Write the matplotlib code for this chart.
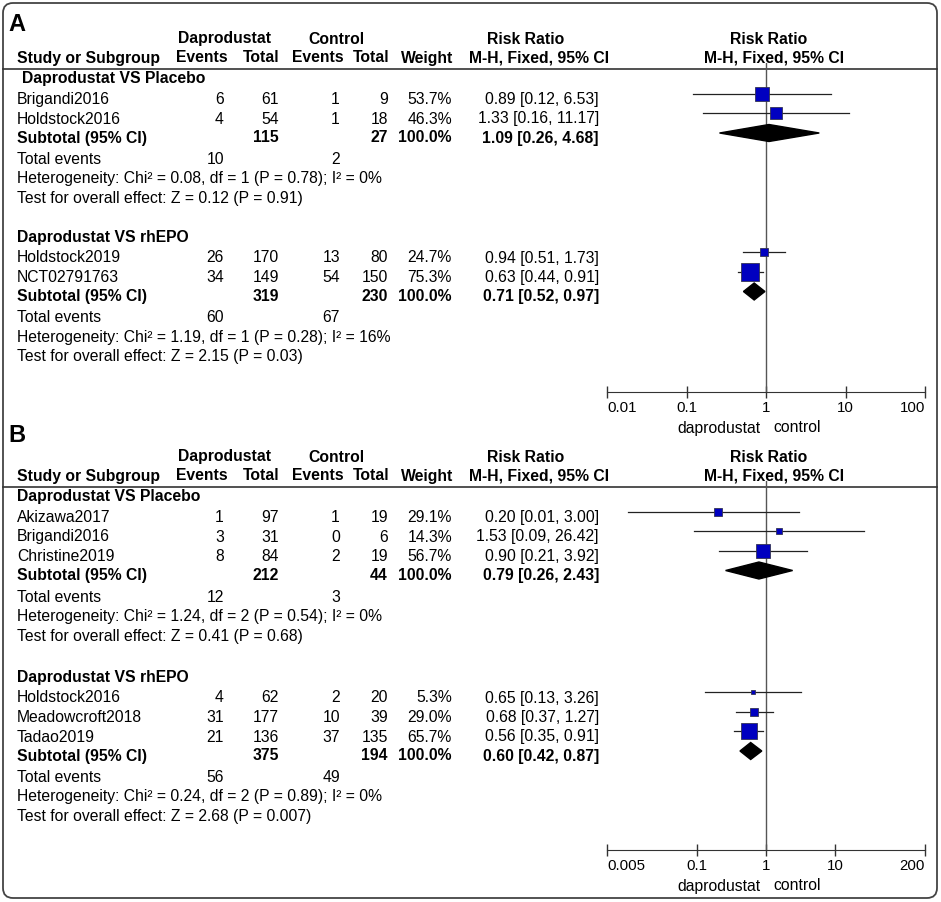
import matplotlib
matplotlib.use("Agg")
import matplotlib.pyplot as plt
from matplotlib.patches import FancyBboxPatch
from matplotlib.ticker import NullLocator
from matplotlib.transforms import offset_copy

plt.rcParams['font.family'] = ['Liberation Sans', 'DejaVu Sans']

# ---- data: panel A ----
a_p_study = ["Brigandi2016", "Holdstock2016"]
a_p_exp_ev = [6, 4]
a_p_exp_n = [61, 54]
a_p_ctl_ev = [1, 1]
a_p_ctl_n = [9, 18]
a_p_weight = [53.7, 46.3]
a_p_rr = [0.89, 1.33]
a_p_lo = [0.12, 0.16]
a_p_hi = [6.53, 11.17]
a_p_sub_n = [115, 27]
a_p_sub_rr = [1.09, 0.26, 4.68]
a_p_events = [10, 2]
a_p_het = "Heterogeneity: Chi² = 0.08, df = 1 (P = 0.78); I² = 0%"
a_p_test = "Test for overall effect: Z = 0.12 (P = 0.91)"

a_e_study = ["Holdstock2019", "NCT02791763"]
a_e_exp_ev = [26, 34]
a_e_exp_n = [170, 149]
a_e_ctl_ev = [13, 54]
a_e_ctl_n = [80, 150]
a_e_weight = [24.7, 75.3]
a_e_rr = [0.94, 0.63]
a_e_lo = [0.51, 0.44]
a_e_hi = [1.73, 0.91]
a_e_sub_n = [319, 230]
a_e_sub_rr = [0.71, 0.52, 0.97]
a_e_events = [60, 67]
a_e_het = "Heterogeneity: Chi² = 1.19, df = 1 (P = 0.28); I² = 16%"
a_e_test = "Test for overall effect: Z = 2.15 (P = 0.03)"

a_ticks = [0.01, 0.1, 1, 10, 100]
a_ticklabels = ["0.01", "0.1", "1", "10", "100"]

# ---- data: panel B ----
b_p_study = ["Akizawa2017", "Brigandi2016", "Christine2019"]
b_p_exp_ev = [1, 3, 8]
b_p_exp_n = [97, 31, 84]
b_p_ctl_ev = [1, 0, 2]
b_p_ctl_n = [19, 6, 19]
b_p_weight = [29.1, 14.3, 56.7]
b_p_rr = [0.20, 1.53, 0.90]
b_p_lo = [0.01, 0.09, 0.21]
b_p_hi = [3.00, 26.42, 3.92]
b_p_sub_n = [212, 44]
b_p_sub_rr = [0.79, 0.26, 2.43]
b_p_events = [12, 3]
b_p_het = "Heterogeneity: Chi² = 1.24, df = 2 (P = 0.54); I² = 0%"
b_p_test = "Test for overall effect: Z = 0.41 (P = 0.68)"

b_e_study = ["Holdstock2016", "Meadowcroft2018", "Tadao2019"]
b_e_exp_ev = [4, 31, 21]
b_e_exp_n = [62, 177, 136]
b_e_ctl_ev = [2, 10, 37]
b_e_ctl_n = [20, 39, 135]
b_e_weight = [5.3, 29.0, 65.7]
b_e_rr = [0.65, 0.68, 0.56]
b_e_lo = [0.13, 0.37, 0.35]
b_e_hi = [3.26, 1.27, 0.91]
b_e_sub_n = [375, 194]
b_e_sub_rr = [0.60, 0.42, 0.87]
b_e_events = [56, 49]
b_e_het = "Heterogeneity: Chi² = 0.24, df = 2 (P = 0.89); I² = 0%"
b_e_test = "Test for overall effect: Z = 2.68 (P = 0.007)"

b_ticks = [0.005, 0.1, 1, 10, 200]
b_ticklabels = ["0.005", "0.1", "1", "10", "200"]

group_names = ["Daprodustat VS Placebo", "Daprodustat VS rhEPO"]


def make_group(study, ev1, n1, ev2, n2, w, rr, lo, hi, sub_n, sub_rr, events, het, test):
    return dict(study=study, ev1=ev1, n1=n1, ev2=ev2, n2=n2, w=w, rr=rr, lo=lo, hi=hi,
                sub_n=sub_n, sub_rr=sub_rr, events=events, het=het, test=test)


panel_a = [make_group(a_p_study, a_p_exp_ev, a_p_exp_n, a_p_ctl_ev, a_p_ctl_n, a_p_weight,
                      a_p_rr, a_p_lo, a_p_hi, a_p_sub_n, a_p_sub_rr, a_p_events, a_p_het, a_p_test),
           make_group(a_e_study, a_e_exp_ev, a_e_exp_n, a_e_ctl_ev, a_e_ctl_n, a_e_weight,
                      a_e_rr, a_e_lo, a_e_hi, a_e_sub_n, a_e_sub_rr, a_e_events, a_e_het, a_e_test)]
panel_b = [make_group(b_p_study, b_p_exp_ev, b_p_exp_n, b_p_ctl_ev, b_p_ctl_n, b_p_weight,
                      b_p_rr, b_p_lo, b_p_hi, b_p_sub_n, b_p_sub_rr, b_p_events, b_p_het, b_p_test),
           make_group(b_e_study, b_e_exp_ev, b_e_exp_n, b_e_ctl_ev, b_e_ctl_n, b_e_weight,
                      b_e_rr, b_e_lo, b_e_hi, b_e_sub_n, b_e_sub_rr, b_e_events, b_e_het, b_e_test)]

# ---- layout (pixels) ----
W, H = 941, 902
FS = 11.3
X_STUDY, X_EV1, X_N1, X_EV2, X_N2, X_W, X_CI = 17, 224, 279, 340, 388, 452, 599
PLOT_L, PLOT_R = 607, 925
SQ_COLOR = '#0000c0'
LINE_COLOR = '#333333'

fig = plt.figure(figsize=(W / 100, H / 100), dpi=100)
bg = fig.add_axes([0, 0, 1, 1])
bg.set_xlim(0, W)
bg.set_ylim(H, 0)
bg.axis('off')

frame = FancyBboxPatch((3, 3), 934, 895, boxstyle='round,pad=0,rounding_size=10',
                       fill=False, ec='#444444', lw=1.3)
bg.add_patch(frame)


def txt(x, y, s, ha='right', bold=False, size=FS):
    bg.text(x, y, s, ha=ha, va='center', fontsize=size,
            fontweight='bold' if bold else 'normal')


def draw_panel(label, label_y, y0, gap, indent, groups, ax_bottom, xlim, ticks, ticklabels):
    txt(8, label_y, label, ha='left', bold=True, size=17)
    h1, h2, line_y = y0 + 15, y0 + 34, y0 + 45
    txt(225, h1, "Daprodustat", ha='center', bold=True)
    txt(336, h1, "Control", ha='center', bold=True)
    txt(526, h1, "Risk Ratio", ha='center', bold=True)
    txt(769, h1, "Risk Ratio", ha='center', bold=True)
    txt(X_STUDY, h2, "Study or Subgroup", ha='left', bold=True)
    txt(X_EV1 + 4, h2, "Events", bold=True)
    txt(X_N1 + 1, h2, "Total", bold=True)
    txt(X_EV2 + 4, h2, "Events", bold=True)
    txt(X_N2 + 2, h2, "Total", bold=True)
    txt(X_W + 1, h2, "Weight", bold=True)
    txt(539, h2, "M-H, Fixed, 95% CI", ha='center', bold=True)
    txt(774, h2, "M-H, Fixed, 95% CI", ha='center', bold=True)
    bg.plot([3, 937], [line_y, line_y], color=LINE_COLOR, lw=1.2)

    top = line_y - 6
    ax = fig.add_axes([PLOT_L / W, 1 - ax_bottom / H, (PLOT_R - PLOT_L) / W, (ax_bottom - top) / H])
    ax.set_xscale('log')
    ax.set_xlim(xlim)
    ax.set_ylim(ax_bottom, top)
    ax.patch.set_alpha(0)
    for s in ['top', 'left', 'right']:
        ax.spines[s].set_visible(False)
    ax.spines['bottom'].set_color(LINE_COLOR)
    ax.set_yticks([])
    ax.set_xticks(ticks)
    ax.set_xticklabels(ticklabels)
    ax.xaxis.set_minor_locator(NullLocator())
    ax.tick_params(axis='x', direction='inout', length=8, width=1, labelsize=10.8,
                   pad=2.5, color=LINE_COLOR)
    tl = ax.get_xticklabels()
    tl[0].set_ha('left')
    tl[-1].set_ha('right')
    ax.axvline(1, color='#555555', lw=1)
    lab_y = ax_bottom + 36
    ax.text(1, lab_y, "daprodustat", ha='right', va='center', fontsize=FS, clip_on=False,
            transform=offset_copy(ax.transData, fig=fig, x=-4.3, y=0, units='points'))
    ax.text(1, lab_y, "control", ha='left', va='center', fontsize=FS, clip_on=False,
            transform=offset_copy(ax.transData, fig=fig, x=5.0, y=0, units='points'))

    y = y0 + 55
    for gi, g in enumerate(groups):
        txt(X_STUDY + (indent if gi == 0 else 0), y, group_names[gi], ha='left', bold=True)
        y += 20.5
        for i, name in enumerate(g['study']):
            txt(X_STUDY, y, name, ha='left')
            txt(X_EV1, y, str(g['ev1'][i]))
            txt(X_N1, y, str(g['n1'][i]))
            txt(X_EV2, y, str(g['ev2'][i]))
            txt(X_N2, y, str(g['n2'][i]))
            txt(X_W, y, f"{g['w'][i]:.1f}%")
            txt(X_CI, y, f"{g['rr'][i]:.2f} [{g['lo'][i]:.2f}, {g['hi'][i]:.2f}]")
            my = y - 6
            ax.plot([g['lo'][i], g['hi'][i]], [my, my], color='#222222', lw=0.9, zorder=2)
            side = max(4.0, 0.7 * g['w'][i] ** 0.75)
            ax.plot(g['rr'][i], my, marker='s', ms=side * 0.72, mfc=SQ_COLOR,
                    mec='#333355', mew=0.6, zorder=3, clip_on=False)
            y += 19.5
        y -= 0.5
        rr, lo, hi = g['sub_rr']
        txt(X_STUDY, y, "Subtotal (95% CI)", ha='left', bold=True)
        txt(X_N1, y, str(g['sub_n'][0]), bold=True)
        txt(X_N2, y, str(g['sub_n'][1]), bold=True)
        txt(X_W, y, "100.0%", bold=True)
        txt(X_CI, y, f"{rr:.2f} [{lo:.2f}, {hi:.2f}]", bold=True)
        dy = y - 5
        ax.fill([lo, rr, hi, rr], [dy, dy - 8.5, dy, dy + 8.5], color='black', zorder=4)
        y += 21.5
        txt(X_STUDY, y, "Total events", ha='left')
        txt(X_EV1, y, str(g['events'][0]))
        txt(X_EV2, y, str(g['events'][1]))
        y += 19.5
        txt(X_STUDY, y, g['het'], ha='left')
        y += 19.5
        txt(X_STUDY, y, g['test'], ha='left')
        y += gap


draw_panel("A", 24.5, 24, 39, 5, panel_a, 392, (0.01, 100), a_ticks, a_ticklabels)
draw_panel("B", 436, 442, 41.5, 0, panel_b, 850, (0.005, 200), b_ticks, b_ticklabels)

fig.savefig("out.png", dpi=100)
